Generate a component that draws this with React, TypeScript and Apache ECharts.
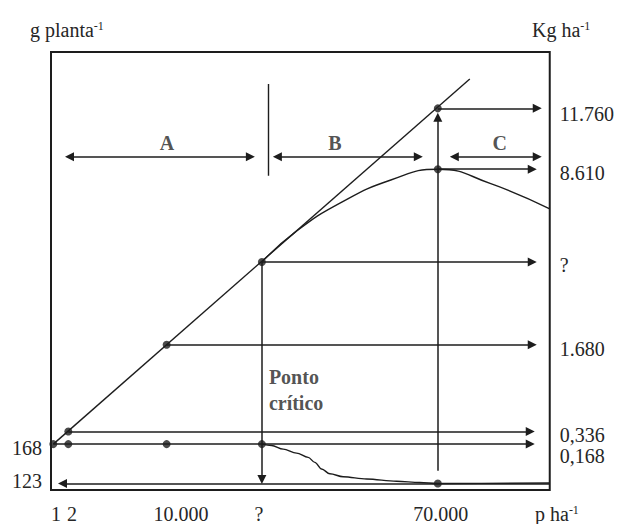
import React, { useEffect, useRef } from "react";
import * as echarts from "echarts";

// Plot units: the frame spans 0..499 across and 0..439 up.
// Plant density positions on the (schematic) horizontal axis: 1, 2, 10.000, ?, 70.000
const densityAt = [2.3, 17.3, 115.7, 211, 387];
const densityTickLabels = ["1", "2", "10.000", "?", "70.000"];
const densityTickPos = [5, 21, 130, 208, 390];

// Yield per hectare levels: 0,168  0,336  1.680  ?  8.610  11.760
const hectareLevel = [46, 58.7, 145.5, 228.5, 321.5, 382.5];
const hectareTickLabels = ["0,168", "0,336", "1.680", "?", "8.610", "11.760"];
const hectareTickPos = [34, 55, 141, 226, 318, 377];

// Yield per plant levels: 168 g and 123 g
const plantLevel = [46, 6.5];
const plantTickLabels = ["168", "123"];
const plantTickPos = [42, 9];

// Where each per-hectare arrow stops on the right side
const hectareArrowEnd = [479.5, 479.5, 481.5, 481.5, 481.5, 486.5];

// Potential yield: straight line through the origin point
const potentialLine = [
  [2.3, 46],
  [419, 412],
];

// Actual yield per hectare beyond the critical point
const yieldCurve = [
  [211, 228.5],
  [245, 259],
  [290, 288],
  [340, 310.7],
  [387, 321.5],
  [440, 307],
  [499, 281.7],
];

// Yield per plant beyond the critical point
const plantCurve = [
  [211, 46],
  [220.7, 44.6],
  [232.3, 41],
  [245.7, 37],
  [257.3, 32.7],
  [264, 27.7],
  [270.7, 21],
  [279, 16.3],
  [292.3, 13.3],
  [315.7, 11],
  [345.7, 8.7],
  [369, 7.5],
  [387, 6.5],
  [499, 7],
];

// Competition zones A, B, C
const zoneNames = ["A", "B", "C"];
const zoneSpans = [
  [18.5, 199.5],
  [226.5, 367.5],
  [403.5, 486.5],
];
const zoneLevel = 334;
const zoneLabelAt = [116, 284, 449];
const zoneLabelLevel = 348;
const zoneDivider = [
  [217.3, 407],
  [217.3, 315],
];

const INK = "#1d1d1d";
const TEXT = "#262626";
const FONT = "Liberation Serif";

function buildOption(): echarts.EChartsOption {
  const [dOne, dTwo, dTen, dCrit, dSeventy] = densityAt;
  const [h0168, h0336, h1680, hCrit, h8610, h11760] = hectareLevel;
  const [p168, p123] = plantLevel;

  const rightArrows = hectareLevel.map((lvl, i) => {
    const startX = [dOne, dTwo, dTen, dCrit, dSeventy, dSeventy][i];
    return { coords: [[startX, lvl], [hectareArrowEnd[i], lvl]] };
  });

  const otherArrows = [
    // 123 g per plant, pointing back to the left axis
    { coords: [[499, p123], [11.5, p123]] },
    // critical point dropping to the per-plant axis
    { coords: [[dCrit, hCrit], [dCrit, 10.5]] },
    // 70.000 plants rising to the potential line
    { coords: [[dSeventy, 19.3], [dSeventy, h11760 - 9]] },
  ];

  const dots = [
    [dOne, h0168],
    [dTwo, h0336],
    [dTen, h1680],
    [dCrit, hCrit],
    [dSeventy, h11760],
    [dSeventy, h8610],
    [dTwo, p168],
    [dTen, p168],
    [dCrit, p168],
    [dSeventy, p123],
  ];

  const labelFor = (labels: string[], pos: number[]) => (v: number) => {
    const i = pos.indexOf(v);
    return i >= 0 ? labels[i] : "";
  };

  const hiddenAxis = {
    axisLine: { show: false },
    axisTick: { show: false },
    splitLine: { show: false },
  };

  const unitText = (x: number, y: number, base: string) => ({
    type: "text",
    x,
    y,
    style: {
      text: base + "{sup|-1}",
      fill: TEXT,
      fontSize: 20,
      fontFamily: FONT,
      align: "left",
      verticalAlign: "middle",
      rich: { sup: { fontSize: 12, fontFamily: FONT, fill: TEXT, verticalAlign: "top" } },
    },
  });

  return {
    animation: false,
    backgroundColor: "#ffffff",
    textStyle: { fontFamily: FONT },
    grid: {
      left: 51,
      top: 52,
      width: 499,
      height: 439,
      show: true,
      borderColor: INK,
      borderWidth: 2,
    },
    xAxis: {
      type: "value",
      min: 0,
      max: 499,
      ...hiddenAxis,
      axisLabel: {
        customValues: densityTickPos,
        formatter: labelFor(densityTickLabels, densityTickPos),
        margin: 14,
        fontSize: 20,
        color: TEXT,
        fontFamily: FONT,
      },
    } as any,
    yAxis: [
      {
        type: "value",
        min: 0,
        max: 439,
        position: "left",
        ...hiddenAxis,
        axisLabel: {
          customValues: plantTickPos,
          formatter: labelFor(plantTickLabels, plantTickPos),
          margin: 9,
          fontSize: 20,
          color: TEXT,
          fontFamily: FONT,
        },
      } as any,
      {
        type: "value",
        min: 0,
        max: 439,
        position: "right",
        ...hiddenAxis,
        axisLabel: {
          customValues: hectareTickPos,
          formatter: labelFor(hectareTickLabels, hectareTickPos),
          margin: 10,
          fontSize: 20,
          color: TEXT,
          fontFamily: FONT,
        },
      } as any,
    ],
    graphic: [
      unitText(30, 29.5, "g planta"),
      unitText(532, 29.5, "Kg ha"),
      unitText(535, 514, "p ha"),
    ] as any,
    series: [
      {
        type: "lines",
        coordinateSystem: "cartesian2d",
        symbol: "none",
        lineStyle: { color: INK, width: 1.4, opacity: 1 },
        data: [{ coords: potentialLine }, { coords: zoneDivider }],
      },
      {
        type: "line",
        data: yieldCurve,
        smooth: 0.5,
        showSymbol: false,
        lineStyle: { color: INK, width: 1.4 },
      },
      {
        type: "line",
        data: plantCurve,
        smooth: 0.35,
        smoothMonotone: "x",
        showSymbol: false,
        lineStyle: { color: INK, width: 1.4 },
      },
      {
        type: "lines",
        coordinateSystem: "cartesian2d",
        symbol: ["none", "triangle"],
        symbolSize: 9,
        lineStyle: { color: INK, width: 1.5, opacity: 1 },
        itemStyle: { color: INK },
        data: [...rightArrows, ...otherArrows],
      },
      {
        type: "lines",
        coordinateSystem: "cartesian2d",
        symbol: ["triangle", "triangle"],
        symbolSize: 9,
        lineStyle: { color: INK, width: 1.5, opacity: 1 },
        itemStyle: { color: INK },
        data: zoneSpans.map(([a, b]) => ({ coords: [[a, zoneLevel], [b, zoneLevel]] })),
      },
      {
        type: "scatter",
        symbol: "circle",
        symbolSize: 8,
        itemStyle: { color: INK },
        data: dots,
        z: 5,
      },
      {
        type: "scatter",
        symbolSize: 0,
        itemStyle: { color: "transparent" },
        label: {
          show: true,
          position: [0, 0],
          align: "center",
          verticalAlign: "middle",
          formatter: "{b}",
          fontFamily: FONT,
          fontSize: 20,
          fontWeight: "bold",
          color: TEXT,
        },
        data: [
          ...zoneNames.map((name, i) => ({ name, value: [zoneLabelAt[i], zoneLabelLevel] })),
          {
            name: "Ponto\ncrítico",
            value: [218, 100.5],
            label: { align: "left", lineHeight: 26 },
          },
        ],
        z: 6,
      },
    ] as any,
  };
}

export default function App() {
  const ref = useRef<HTMLDivElement>(null);

  useEffect(() => {
    if (!ref.current) return;
    document.body.style.margin = "0";
    const chart = echarts.init(ref.current, null, { renderer: "svg" });
    chart.setOption(buildOption());
    return () => chart.dispose();
  }, []);

  return <div ref={ref} style={{ width: 617, height: 524, background: "#ffffff" }} />;
}
